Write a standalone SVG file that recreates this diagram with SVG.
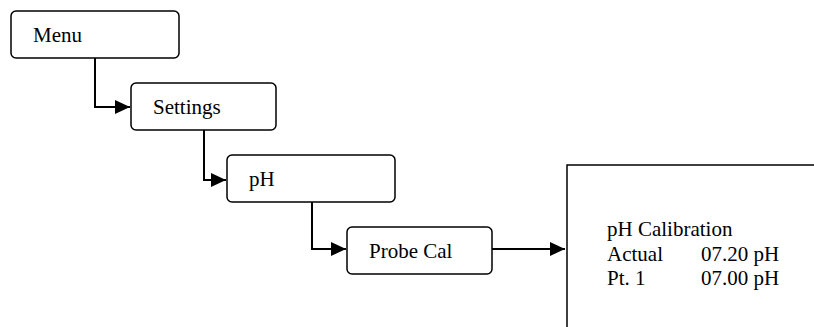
<svg xmlns="http://www.w3.org/2000/svg" width="814" height="327" viewBox="0 0 814 327">
<style>
.box{fill:#fff;stroke:#000;stroke-width:1.5}
.conn{fill:none;stroke:#000;stroke-width:2}
.t{font-family:"Liberation Serif","Times New Roman",serif;font-size:21px;fill:#000}
</style>
<defs>
<marker id="arr" markerWidth="16" markerHeight="14" refX="15" refY="7" orient="auto" markerUnits="userSpaceOnUse">
<path d="M0,0 L15,7 L0,14 Z" fill="#000"/>
</marker>
</defs>
<g id="connectors">
<path class="conn" d="M95,58 V107 H130" marker-end="url(#arr)"/>
<path class="conn" d="M204,130 V180 H226" marker-end="url(#arr)"/>
<path class="conn" d="M312,202 V249 H346" marker-end="url(#arr)"/>
<path class="conn" d="M492,249 H565" marker-end="url(#arr)"/>
</g>
<g id="menu">
<rect class="box" x="11" y="11" width="168" height="47" rx="5"/>
<text class="t" x="33" y="42">Menu</text>
</g>
<g id="settings">
<rect class="box" x="131" y="83" width="145" height="47" rx="5"/>
<text class="t" x="153" y="114">Settings</text>
</g>
<g id="ph">
<rect class="box" x="227" y="155" width="168" height="47" rx="5"/>
<text class="t" x="249" y="186">pH</text>
</g>
<g id="probecal">
<rect class="box" x="347" y="227" width="145" height="47" rx="5"/>
<text class="t" x="369" y="258">Probe Cal</text>
</g>
<g id="screen">
<path class="box" d="M567,330 V165 H820"/>
<text class="t" x="607" y="236">pH Calibration</text>
<text class="t" x="607" y="261">Actual</text>
<text class="t" x="701" y="261">07.20 pH</text>
<text class="t" x="607" y="285">Pt. 1</text>
<text class="t" x="701" y="285">07.00 pH</text>
</g>
</svg>
